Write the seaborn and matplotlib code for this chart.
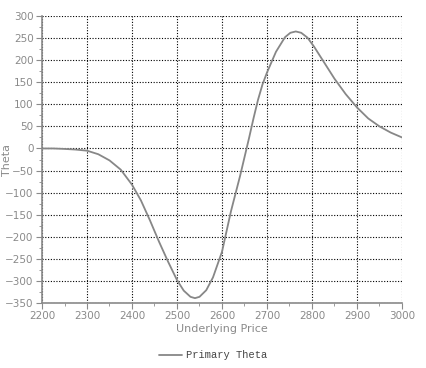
import matplotlib
matplotlib.use("Agg")
import matplotlib.pyplot as plt
from matplotlib.ticker import MultipleLocator
import pandas as pd
import seaborn as sns

# underlying price vs primary theta
price = [2200, 2225, 2250, 2275, 2300, 2325, 2350, 2375, 2400, 2420,
         2440, 2460, 2480, 2500, 2515, 2530, 2540, 2550, 2565, 2580,
         2600, 2620, 2640, 2660, 2670, 2680, 2690, 2700, 2720, 2740,
         2752, 2764, 2776, 2790, 2805, 2825, 2850, 2875, 2900, 2925,
         2950, 2975, 3000]
theta = [0, 0, -1, -2.5, -5, -13, -27, -48, -82, -118,
         -163, -211, -256, -298, -322, -336, -339, -336, -321, -292,
         -234, -142, -63, 23, 68, 110, 145, 172, 219, 252,
         262, 265, 262, 251, 230, 198, 158, 123, 93, 68,
         50, 36, 25]
series_name = "Primary Theta"

df = pd.DataFrame({"Underlying Price": price, "Theta": theta})

sns.set_style("white")
GREY = "#8a8a8a"

fig = plt.figure(figsize=(4.26, 3.68), dpi=100)
ax = fig.add_axes([0.0986, 0.1766, 0.845, 0.7799])

sns.lineplot(data=df, x="Underlying Price", y="Theta", ax=ax,
             color="#878787", linewidth=1.3, label=series_name, legend=False)

ax.set_xlim(2200, 3000)
ax.set_ylim(-350, 300)
ax.xaxis.set_major_locator(MultipleLocator(100))
ax.xaxis.set_minor_locator(MultipleLocator(50))
ax.yaxis.set_major_locator(MultipleLocator(50))
ax.yaxis.set_minor_locator(MultipleLocator(25))

ax.grid(True, which="major", color="black", linestyle=(0, (1, 1.5)), linewidth=0.8)
for side in ["top", "right"]:
    ax.spines[side].set_visible(False)
for side in ["left", "bottom"]:
    ax.spines[side].set_color(GREY)
    ax.spines[side].set_linewidth(1.2)

ax.tick_params(which="major", length=4, color=GREY, labelsize=7.5,
               labelcolor=GREY, pad=2)
ax.tick_params(which="minor", length=2.5, color=GREY)
ax.tick_params(axis="x", which="both", direction="out", bottom=True)
ax.tick_params(axis="y", which="both", direction="out", left=True)

ax.set_xlabel("Underlying Price", fontsize=8, color=GREY, labelpad=2)
ax.set_ylabel("Theta", fontsize=8, color=GREY)
ax.yaxis.set_label_coords(-0.083, 0.5)

handles, labels = ax.get_legend_handles_labels()
fig.legend(handles, labels, loc="lower center", bbox_to_anchor=(0.5, -0.005),
           frameon=False, handlelength=2.2, handletextpad=0.4,
           prop={"family": "Liberation Mono", "size": 7.5}, labelcolor="#444444")

fig.savefig("out.png", dpi=100)
